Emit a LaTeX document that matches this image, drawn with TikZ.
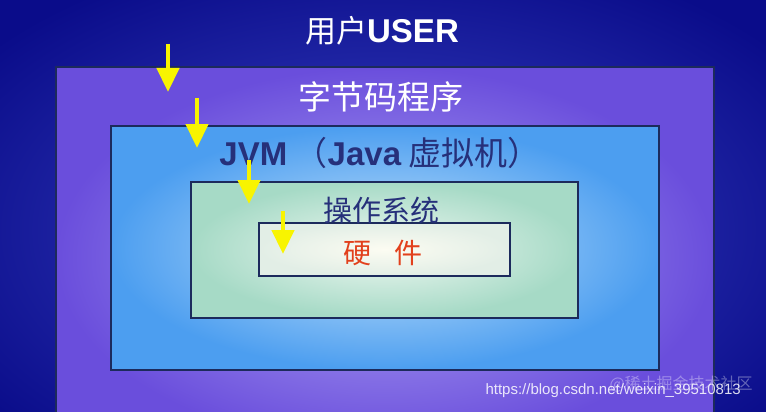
\documentclass[tikz,border=0pt]{standalone}
\usepackage{fontspec}
\setmainfont{Liberation Sans}
\newfontfamily\cjk{Noto Sans CJK SC}
\usetikzlibrary{positioning,arrows.meta}
\definecolor{bgdark}{HTML}{0A0C8A}
\definecolor{bglight}{HTML}{3A44C4}
\definecolor{outerdark}{HTML}{6A4EDC}
\definecolor{outerlight}{HTML}{B0A6F4}
\definecolor{jvmdark}{HTML}{4C9EF0}
\definecolor{jvmlight}{HTML}{C4E2FA}
\definecolor{osdark}{HTML}{A6DAC6}
\definecolor{oslight}{HTML}{F0F8F2}
\definecolor{hwdark}{HTML}{E2EEE6}
\definecolor{hwlight}{HTML}{FCFCF2}
\definecolor{boxline}{HTML}{1C2A5C}
\definecolor{navytext}{HTML}{26307A}
\definecolor{hwred}{HTML}{E2401C}
\definecolor{arrowyellow}{HTML}{F8F400}

\begin{document}
\begin{tikzpicture}[x=1pt, y=-1pt,
  layer/.style={draw=boxline, line width=1.6pt, anchor=north west, inner sep=0pt},
  title/.style={font=\cjk\fontsize{32}{36}\selectfont},
  down/.style={-{Triangle[width=22pt,length=24pt]}, line width=4.5pt, draw=arrowyellow},
  wmark/.style={font=\fontsize{15}{17}\selectfont, text=white, opacity=0.85}
]
\useasboundingbox (0,0) rectangle (766,412);
\clip (0,0) rectangle (766,412);
\shade[inner color=bglight, outer color=bgdark] (-120,-60) rectangle (886,520);

% nested layers
\node[layer, inner color=outerlight, outer color=outerdark,
  minimum width=658pt, minimum height=380pt] (bytecode) at (55,66) {};
\node[layer, inner color=jvmlight, outer color=jvmdark,
  minimum width=548pt, minimum height=244pt] (jvm) at (110,125) {};
\node[layer, inner color=oslight, outer color=osdark,
  minimum width=387pt, minimum height=136pt] (os) at (190,181) {};
\node[layer, inner color=hwlight, outer color=hwdark,
  minimum width=251pt, minimum height=53pt] (hw) at (258,222) {};

% labels
\node[title, text=white, font=\cjk\fontsize{31}{36}\selectfont] (userlbl) at (382,31)
  {用户{\rmfamily\bfseries\fontsize{33}{36}\selectfont USER}};
\node[title, text=white, font=\cjk\fontsize{33}{36}\selectfont] (bytelbl) at (381,97) {字节码程序};
\node[title, text=navytext, font=\cjk\fontsize{33}{36}\selectfont] (jvmlbl) at (380,153)
  {{\rmfamily\bfseries JVM} （{\rmfamily\bfseries Java} 虚拟机）};
\node[title, text=navytext, font=\cjk\fontsize{29}{32}\selectfont] (oslbl) at (381,210) {操作系统};
\node[title, text=hwred, font=\cjk\fontsize{28}{32}\selectfont] (hwlbl) at (383,253) {硬\hspace{23pt}件};

% yellow arrows
\coordinate (a1) at (168,44);
\coordinate (b1) at (168,92);
\coordinate (a2) at (197,98);
\coordinate (b2) at (197,148);
\coordinate (a3) at (249,160);
\coordinate (b3) at (249,204);
\coordinate (a4) at (283,211);
\coordinate (b4) at (283,254);
\foreach \i in {1,...,4}
  \draw[down] (a\i) -- (b\i);

% watermark
\node[wmark, anchor=west] (url) at (482,391) {https://blog.csdn.net/weixin\_39510813};
\node[wmark, opacity=0.35, anchor=west, font=\cjk\fontsize{16}{18}\selectfont] (site) at (606,384) {@稀土掘金技术社区};
\end{tikzpicture}
\end{document}
